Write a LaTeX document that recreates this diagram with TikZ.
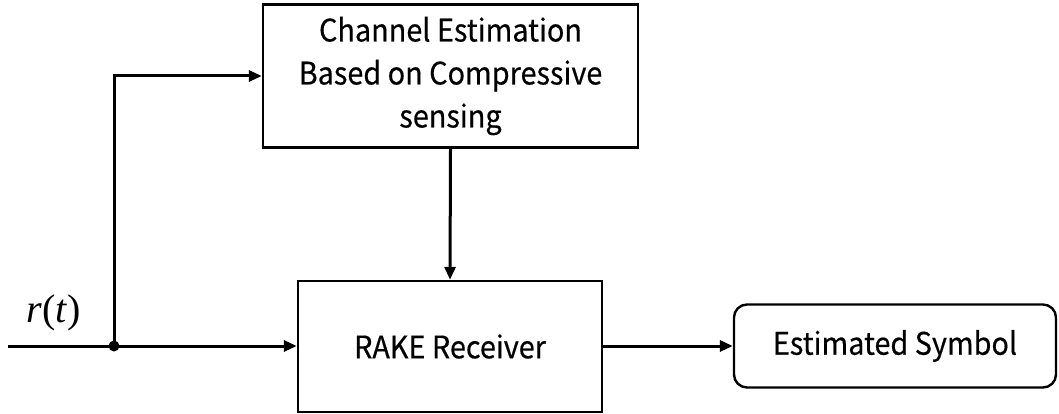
\documentclass[tikz,border=0pt]{standalone}
\usepackage{fontspec}
\setmainfont{Noto Sans CJK KR}[FakeStretch=0.93,FakeBold=0.4]
\newfontfamily\timesfont{Liberation Serif}
\usetikzlibrary{arrows.meta}
\begin{document}
\begin{tikzpicture}[x=1pt,y=-1pt,
  blockbox/.style={draw, line width=2.4pt, align=center, inner sep=0pt, font=\fontsize{31}{43}\selectfont},
  conn/.style={line width=3pt, -{Triangle[length=13pt,width=11pt]}},
  wire/.style={line width=3pt}]
\useasboundingbox (0,0) rectangle (1059,414);
\node[blockbox, minimum width=375pt, minimum height=143pt] (ce) at (450.5,76)
  {Channel Estimation\\Based on Compressive\\sensing};
\node[blockbox, minimum width=304pt, minimum height=131pt] (rake) at (450,346.5) {RAKE Receiver};
\node[blockbox, rounded corners=13pt, minimum width=322pt, minimum height=83pt] (es) at (895,346) {Estimated Symbol};
\coordinate (in) at (8,346);
\coordinate (dot) at (114,346);
\fill (dot) circle (5.5pt);
\node[font=\timesfont\fontsize{40}{40}\selectfont, inner sep=0pt] (rt) at (54,313) {\textit{r}(\textit{t})};
\draw[wire] (in) -- (dot);
\draw[conn] (dot) -- (dot -| rake.west);
\draw[conn] (dot) |- (ce.west);
\draw[conn] (ce.south) -- (rake.north);
\draw[conn] (rake.east |- es.west) -- (es.west);
\end{tikzpicture}
\end{document}
